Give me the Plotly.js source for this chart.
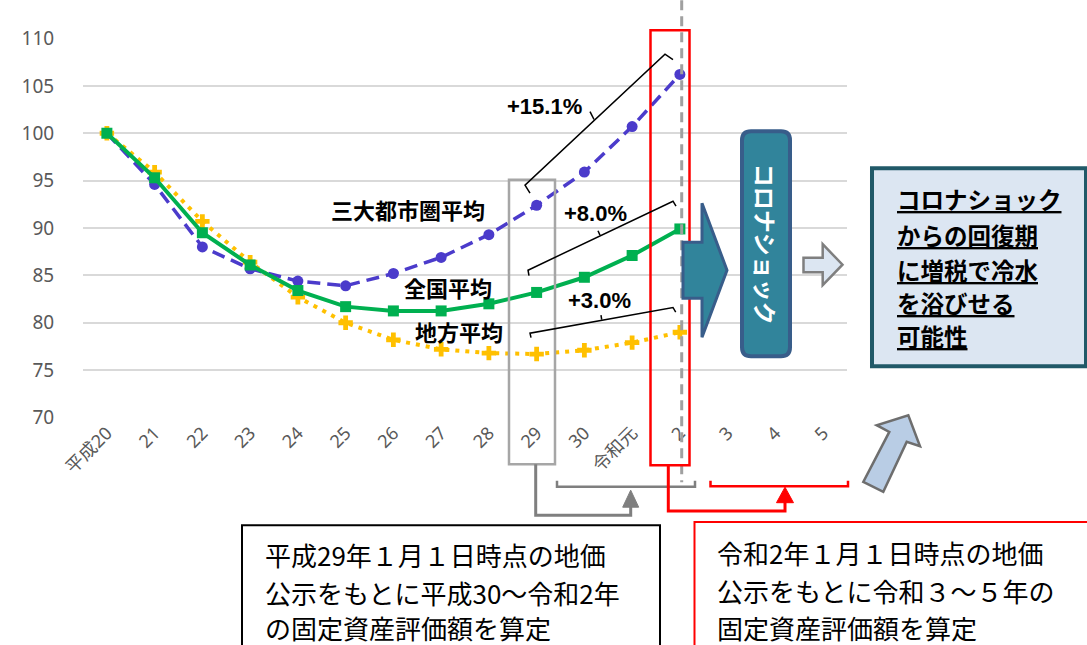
<!DOCTYPE html>
<html>
<head>
<meta charset="utf-8">
<script src="https://cdn.plot.ly/plotly-3.0.1.min.js"></script>
<style>html,body{margin:0;padding:0;background:#fff;}#chart{width:1087px;height:645px;}</style>
</head>
<body>
<div id="chart"></div>
<script>
// ---- data ----
const categories = ['平成20','21','22','23','24','25','26','27','28','29','30','令和元','2','3','4','5'];
const dataYears = ['平成20','21','22','23','24','25','26','27','28','29','30','令和元','2'];
const sandaiAvg = [100, 94.6, 88.0, 85.7, 84.4, 83.9, 85.2, 86.9, 89.3, 92.4, 95.9, 100.7, 106.2];
const zenkokuAvg = [100, 95.3, 89.5, 86.1, 83.4, 81.7, 81.25, 81.25, 82.0, 83.2, 84.8, 87.1, 89.9];
const chihoAvg = [100, 95.9, 90.7, 86.4, 82.7, 80.0, 78.2, 77.2, 76.8, 76.7, 77.1, 77.9, 79.0];
const seriesNames = ['三大都市圏平均', '全国平均', '地方平均'];
const changeLabels = ['+15.1%', '+8.0%', '+3.0%'];

// ---- pixel helpers for decorations ----
const L = 83, R = 847, T = 37.8, B = 417.8;
const X = p => (p - L) / (R - L);
const Y = p => (B - p) / (B - T);
function poly(pts, close) {
  let s = pts.map((p, i) => (i ? 'L' : 'M') + X(p[0]).toFixed(5) + ',' + Y(p[1]).toFixed(5)).join(' ');
  return close ? s + ' Z' : s;
}
function roundRect(x0, y0, x1, y1, r) {
  const f = (x, y) => X(x).toFixed(5) + ',' + Y(y).toFixed(5);
  return 'M' + f(x0 + r, y0) + ' L' + f(x1 - r, y0) + ' Q' + f(x1, y0) + ' ' + f(x1, y0 + r) +
    ' L' + f(x1, y1 - r) + ' Q' + f(x1, y1) + ' ' + f(x1 - r, y1) +
    ' L' + f(x0 + r, y1) + ' Q' + f(x0, y1) + ' ' + f(x0, y1 - r) +
    ' L' + f(x0, y0 + r) + ' Q' + f(x0, y0) + ' ' + f(x0 + r, y0) + ' Z';
}
function pshape(d, color, width, fill, dash) {
  return {type: 'path', xref: 'paper', yref: 'paper', path: d, layer: 'above',
    line: {color: color, width: width, dash: dash || 'solid'}, fillcolor: fill || 'rgba(0,0,0,0)'};
}
function txt(x, y, text, size, opts) {
  opts = opts || {};
  return Object.assign({xref: 'paper', yref: 'paper', x: X(x), y: Y(y), text: text, showarrow: false,
    xanchor: opts.xanchor || 'center', yanchor: 'middle',
    font: {family: opts.family || 'Noto Sans CJK JP', size: size, color: opts.color || '#000', weight: opts.weight || 'normal'}},
    opts.extra || {});
}

const traces = [
  {x: dataYears, y: sandaiAvg, name: seriesNames[0], type: 'scatter', mode: 'lines+markers',
   line: {color: '#4B3BCB', width: 3.5, dash: '13px,7px'}, marker: {symbol: 'circle', size: 11, color: '#4B3BCB'}},
  {x: dataYears, y: chihoAvg, name: seriesNames[2], type: 'scatter', mode: 'lines+markers',
   line: {color: '#FFC000', width: 4, dash: '4px,6px'}, marker: {symbol: 'cross', size: 12, color: '#FFC000'}},
  {x: dataYears, y: zenkokuAvg, name: seriesNames[1], type: 'scatter', mode: 'lines+markers',
   line: {color: '#00B050', width: 4}, marker: {symbol: 'square', size: 11, color: '#00B050'}}
];

const shapes = [
  // dashed vertical line
  pshape(poly([[681.7, 0], [681.7, 482]]), '#A0A0A0', 3, null, '10px,6px'),
  // gray box around 29
  pshape(poly([[509, 179.5], [555, 179.5], [555, 464], [509, 464]], true), '#A6A6A6', 2.5),
  // red box around 2
  pshape(poly([[650.5, 30], [689.5, 30], [689.5, 465], [650.5, 465]], true), '#FF0000', 2.5),
  // gray bracket & connector
  pshape(poly([[557, 480.5], [557, 486.5], [695, 486.5], [695, 480.5]]), '#7F7F7F', 2.5),
  pshape(poly([[535.7, 464], [535.7, 515], [630.7, 515], [630.7, 505]]), '#7F7F7F', 3),
  pshape(poly([[622.7, 507], [638.7, 507], [630.7, 490]], true), '#7F7F7F', 1, '#7F7F7F'),
  // red bracket & connector
  pshape(poly([[710.5, 480.5], [710.5, 486], [848, 486], [848, 480.5]]), '#FF0000', 2.5),
  pshape(poly([[668.3, 465], [668.3, 510.7], [785, 510.7], [785, 501]]), '#FF0000', 3),
  pshape(poly([[776.5, 502.5], [793.5, 502.5], [785, 487]], true), '#FF0000', 1, '#FF0000'),
  // percentage brackets
  pshape(poly([[530, 193], [525, 185], [665, 54], [673, 59.5]]), '#000', 1.5),
  pshape(poly([[594, 119.3], [590, 111.5]]), '#000', 1.5),
  pshape(poly([[529, 275.5], [528, 270], [673, 201], [676, 206]]), '#000', 1.5),
  pshape(poly([[600, 235], [598, 230.5]]), '#000', 1.5),
  pshape(poly([[531, 337.5], [530, 333], [673, 307.3], [675.7, 312]]), '#000', 1.5),
  pshape(poly([[601.7, 319.5], [601, 315]]), '#000', 1.5),
  // big teal arrow
  pshape(poly([[683, 242], [702, 242], [702, 203], [727, 270], [702, 337], [702, 298], [683, 298]], true), '#385D8A', 3, '#31849B'),
  // corona shock box
  pshape(roundRect(742, 131, 790, 356, 9), '#385D8A', 4, '#31849B'),
  // small light arrow
  pshape(poly([[803.5, 257.5], [822.7, 257.5], [822.7, 244], [842.5, 264.5], [822.7, 285], [822.7, 272], [803.5, 272]], true), '#7F7F7F', 2.5, '#DCE6F2'),
  // right message box
  pshape(poly([[872, 168], [1086, 168], [1086, 366], [872, 366]], true), '#215968', 4, '#DCE6F2'),
  // diagonal arrow
  pshape(poly([[863.3, 481.7], [883.3, 491.7], [906.7, 441.7], [920, 446], [908.3, 415], [876.7, 425], [889.3, 431.7]], true), '#6E6E6E', 2.5, '#B9CDE5'),
  // bottom boxes
  pshape(poly([[242, 525], [660, 525], [660, 670], [242, 670]], true), '#000', 2, '#FFFFFF'),
  pshape(poly([[694.5, 521.7], [1095, 521.7], [1095, 670], [694.5, 670]], true), '#FF0000', 2, '#FFFFFF')
];

const bold = {weight: 'bold'};
const annotations = [
  txt(407.5, 209, seriesNames[0], 22, bold),
  txt(448, 287, seriesNames[1], 22, bold),
  txt(459, 331, seriesNames[2], 22, bold),
  txt(544, 106, changeLabels[0], 22, {weight: 'bold', family: 'Liberation Sans, Arial'}),
  txt(595.3, 213.3, changeLabels[1], 22, {weight: 'bold', family: 'Liberation Sans, Arial'}),
  txt(599, 300, changeLabels[2], 22, {weight: 'bold', family: 'Liberation Sans, Arial'}),
  txt(766, 243.5, 'コロナショック', 23, {weight: 'bold', color: '#FFFFFF', extra: {textangle: 90}}),
  txt(895, 199, '<u>コロナショック</u>', 23.5, {weight: 'bold', xanchor: 'left'}),
  txt(895, 234.5, '<u>からの回復期</u>', 23.5, {weight: 'bold', xanchor: 'left'}),
  txt(895, 270, '<u>に増税で冷水</u>', 23.5, {weight: 'bold', xanchor: 'left'}),
  txt(895, 303, '<u>を浴びせる</u>', 23.5, {weight: 'bold', xanchor: 'left'}),
  txt(895, 335.5, '<u>可能性</u>', 23.5, {weight: 'bold', xanchor: 'left'}),
  txt(263, 554, '平成29年１月１日時点の地価', 26, {xanchor: 'left'}),
  txt(263, 592, '公示をもとに平成30～令和2年', 26, {xanchor: 'left'}),
  txt(263, 627, 'の固定資産評価額を算定', 26, {xanchor: 'left'}),
  txt(715, 552, '令和2年１月１日時点の地価', 26, {xanchor: 'left'}),
  txt(715, 590, '公示をもとに令和３～５年の', 26, {xanchor: 'left'}),
  txt(715, 627, '固定資産評価額を算定', 26, {xanchor: 'left'})
];

const layout = {
  width: 1087, height: 645,
  margin: {l: L, r: 1087 - R, t: T, b: 645 - B, pad: 0},
  paper_bgcolor: '#FFFFFF', plot_bgcolor: '#FFFFFF',
  showlegend: false,
  xaxis: {type: 'category', categoryorder: 'array', categoryarray: categories, range: [-0.5, 15.5],
    showgrid: false, zeroline: false, showline: false, tickangle: -45,
    ticks: '', ticklen: 0,
    tickfont: {family: 'Noto Sans, Noto Sans CJK JP', size: 18, color: '#595959'}},
  yaxis: {range: [69.95, 110.05], tick0: 70, dtick: 5, gridcolor: '#D9D9D9', gridwidth: 2,
    zeroline: false, showline: false, ticks: 'outside', ticklen: 24, tickcolor: 'rgba(0,0,0,0)',
    tickfont: {family: 'Noto Sans', size: 19, color: '#595959'}},
  shapes: shapes,
  annotations: annotations
};

Plotly.newPlot('chart', traces, layout, {displayModeBar: false, staticPlot: true});
</script>
</body>
</html>
